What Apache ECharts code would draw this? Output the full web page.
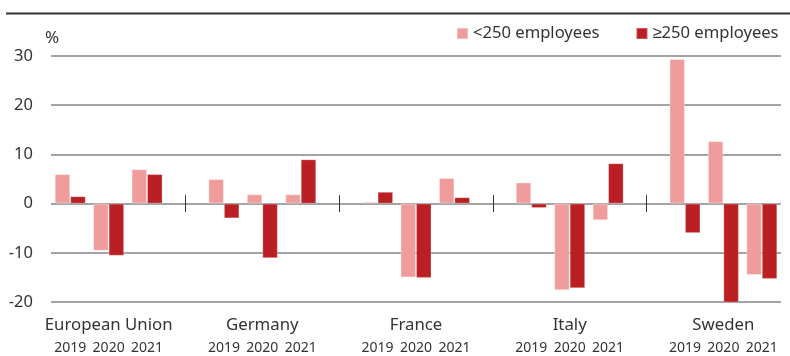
<!DOCTYPE html>
<html>
<head>
<meta charset="utf-8">
<script src="https://cdn.jsdelivr.net/npm/echarts@6/dist/echarts.min.js"></script>
<style>
  html, body { margin: 0; padding: 0; background: #fff; }
  #chart { width: 790px; height: 356px; }
</style>
</head>
<body>
<div id="chart"></div>
<script>
// Change in number of firms, % (by firm size), per area and year
const groups = ['European Union', 'Germany', 'France', 'Italy', 'Sweden'];
const years = ['2019', '2020', '2021'];
const smallFirms = [6.0, -9.6, 7.0,   5.0, 1.9, 1.9,   0.35, -15.0, 5.2,   4.3, -17.6, -3.4,   29.4, 12.7, -14.5];
const largeFirms = [1.5, -10.6, 6.0,  -3.0, -11.1, 9.0,  2.4, -15.1, 1.3,  -0.9, -17.2, 8.2,  -6.0, -20.2, -15.3];
const yTicks = { min: -20, max: 30, step: 10 };

// Lay the years out in slots, leaving one empty slot between areas
const slotYears = [];
const slotGroups = [];
const gapSlots = [];
const smallSlots = [];
const largeSlots = [];
groups.forEach((g, gi) => {
  if (gi > 0) {
    gapSlots.push(slotYears.length);
    slotYears.push('');
    slotGroups.push('');
    smallSlots.push(null);
    largeSlots.push(null);
  }
  years.forEach((y, yi) => {
    slotYears.push(y);
    slotGroups.push(yi === 1 ? g : '');
    smallSlots.push(smallFirms[gi * 3 + yi]);
    largeSlots.push(largeFirms[gi * 3 + yi]);
  });
});

const font = '"Noto Sans", "Liberation Sans", sans-serif';
const chart = echarts.init(document.getElementById('chart'), null, { renderer: 'canvas' });

chart.setOption({
  animation: false,
  textStyle: { fontFamily: font },
  grid: { left: 51, right: 9, top: 56, bottom: 54, containLabel: false },
  legend: {
    left: 456, top: 25, padding: 0,
    itemWidth: 11, itemHeight: 11, itemGap: 36,
    icon: 'rect',
    textStyle: { fontSize: 16.6, color: '#333', fontFamily: font },
    data: ['<250 employees', '≥250 employees']
  },
  graphic: [
    { type: 'line', shape: { x1: 6, y1: 13.5, x2: 790, y2: 13.5 }, style: { stroke: '#333', lineWidth: 2 } },
    { type: 'text', left: 45, top: 30, style: { text: '%', fontSize: 17, fill: '#333', fontFamily: font } }
  ],
  xAxis: [
    {
      type: 'category',
      data: slotYears,
      position: 'bottom',
      axisLine: { show: false, onZero: false },
      axisTick: { show: false },
      axisLabel: { interval: 0, fontSize: 14, color: '#333', margin: 39, fontFamily: font }
    },
    {
      type: 'category',
      data: slotGroups,
      position: 'bottom',
      axisLine: { show: false, onZero: false },
      axisTick: { show: false },
      axisLabel: { interval: 0, fontSize: 16.8, color: '#333', margin: 15, fontFamily: font }
    }
  ],
  yAxis: {
    type: 'value',
    min: yTicks.min, max: yTicks.max, interval: yTicks.step,
    axisLine: { show: false },
    axisTick: { show: false },
    axisLabel: { fontSize: 16.5, color: '#333', margin: 18, fontFamily: font },
    splitLine: { lineStyle: { color: '#858585', width: 1.5 } }
  },
  series: [
    {
      name: '<250 employees',
      type: 'bar',
      xAxisIndex: 0,
      data: smallSlots,
      barWidth: 15.5,
      barGap: '0%',
      itemStyle: { color: '#F09C9C', borderColor: 'rgba(255,255,255,0.35)', borderWidth: 1 }
    },
    {
      name: '≥250 employees',
      type: 'bar',
      xAxisIndex: 0,
      data: largeSlots,
      barWidth: 15.5,
      barGap: '0%',
      itemStyle: { color: '#BA1F24', borderColor: 'rgba(255,255,255,0.25)', borderWidth: 1 }
    },
    {
      // short separators on the zero line between areas
      name: 'separators',
      type: 'line',
      xAxisIndex: 0,
      data: [],
      silent: true,
      markLine: {
        silent: true,
        symbol: 'none',
        label: { show: false },
        lineStyle: { color: '#333', width: 1, type: 'solid' },
        data: gapSlots.map(i => [{ coord: [i, -1.7] }, { coord: [i, 1.7] }])
      }
    }
  ]
});
</script>
</body>
</html>
